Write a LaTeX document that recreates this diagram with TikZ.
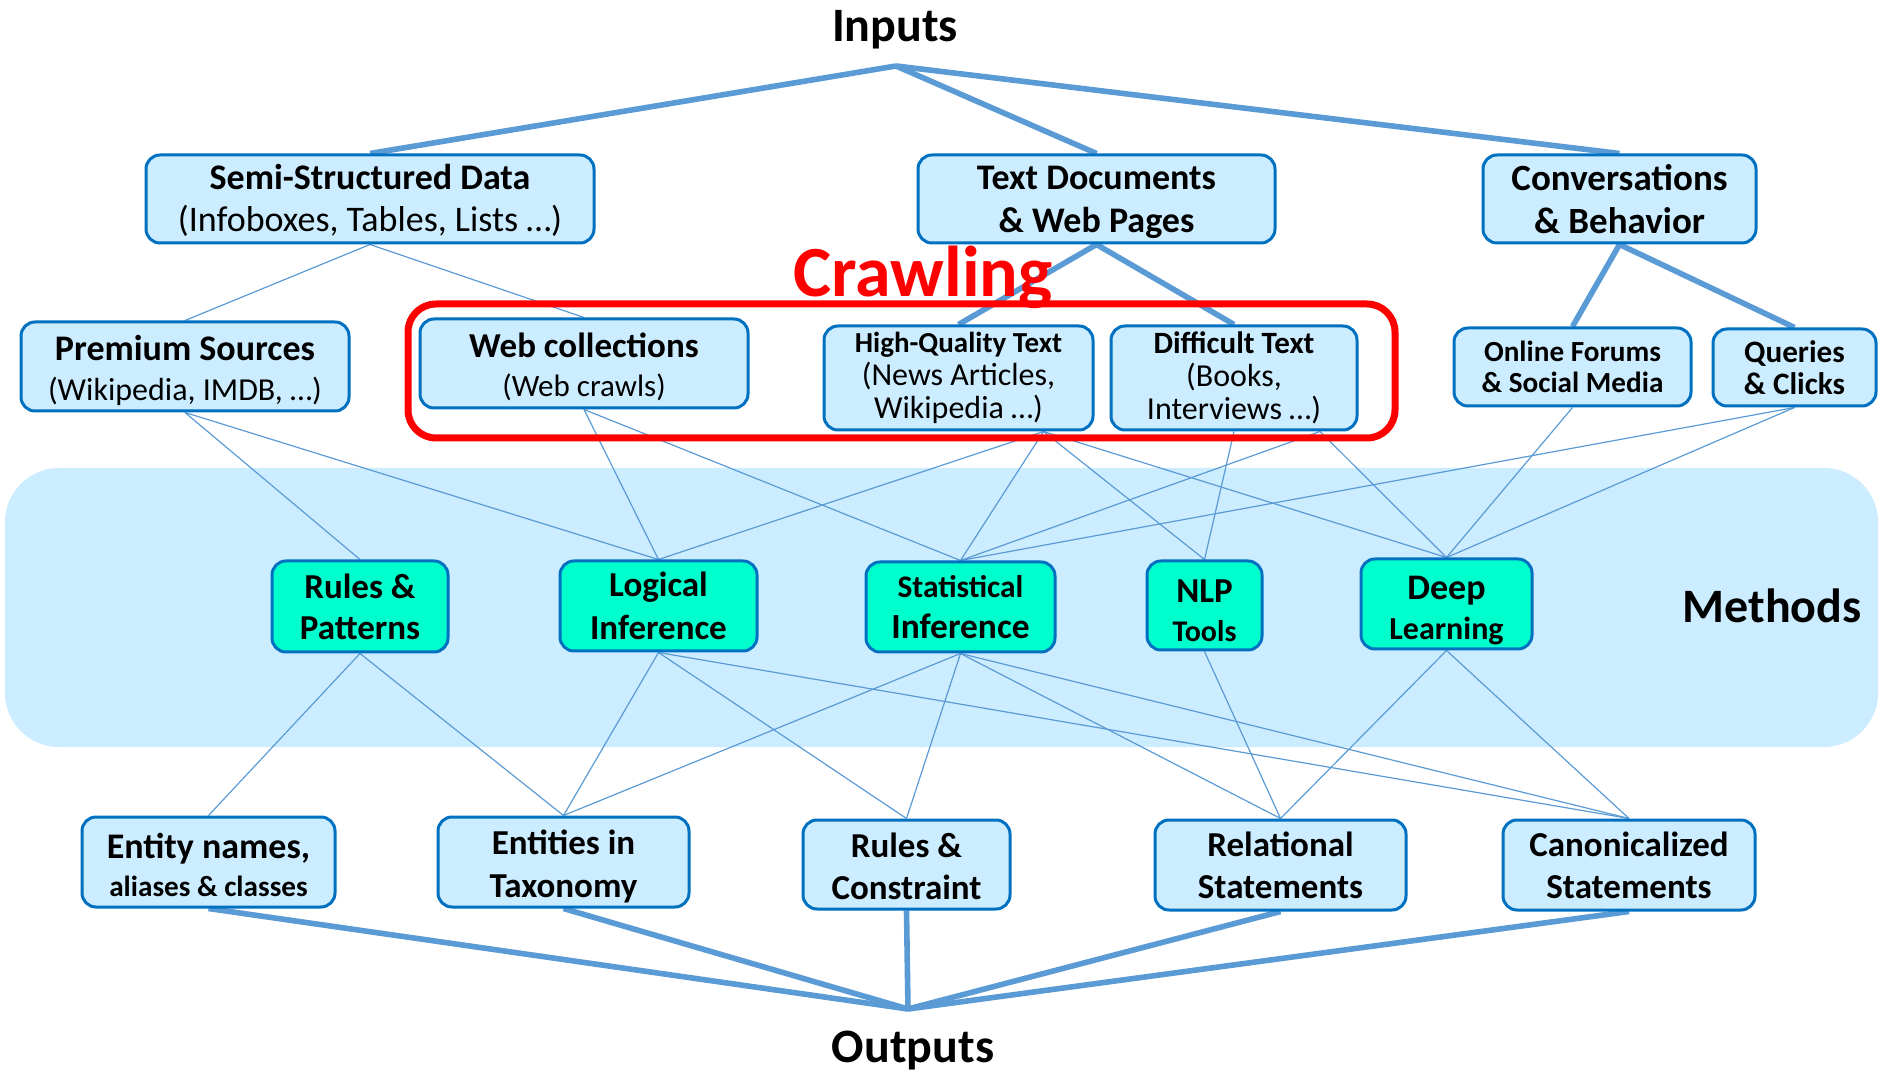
\documentclass[tikz,border=0pt]{standalone}
\usepackage{fontspec}
\setmainfont{Carlito}

\definecolor{boxfill}{HTML}{CCECFF}
\definecolor{boxline}{HTML}{0070C0}
\definecolor{methfill}{HTML}{00FFCC}
\definecolor{linkblue}{HTML}{5B9BD5}
\definecolor{crawlred}{HTML}{FF0000}

\pgfdeclarelayer{bandlayer}
\pgfdeclarelayer{linklayer}
\pgfsetlayers{bandlayer,linklayer,main}

\newcommand\fsz[2]{\fontsize{#1}{#2}\selectfont}
% a taller first line pushes the text block a little lower in its box
\newcommand\topstrut[1]{\rule{0pt}{#1}}

\tikzset{
  wh/.style 2 args={minimum width=#1*0.5pt, minimum height=#2*0.5pt},
  box/.style={draw=boxline, line width=1.5pt, fill=boxfill, rounded corners=7pt,
    inner sep=0pt, align=center, font=\bfseries\fsz{18}{21}},
  mbox/.style={box, fill=methfill},
  thinlink/.style={draw=linkblue, line width=0.6pt},
  thicklink/.style={draw=linkblue, line width=2.8pt},
  lbl/.style={anchor=base, inner sep=0pt, font=\bfseries\fsz{24}{28}},
}

\begin{document}
\begin{tikzpicture}[x=0.5pt,y=-0.5pt]
\useasboundingbox (0,0) rectangle (1880,1074);

% methods band
\begin{pgfonlayer}{bandlayer}
  \fill[boxfill, rounded corners=27pt] (5,468) rectangle (1878,747);
\end{pgfonlayer}

% red frame around the crawled sources
\draw[crawlred, line width=3.5pt, rounded corners=14pt] (408,304) rectangle (1395,438);

% input sources
\node[box, wh={448}{88}] (semi) at (370,199)
  {\topstrut{14.5pt}Semi-Structured Data\\{\mdseries (Infoboxes, Tables, Lists …)}};
\node[box, wh={357}{88}, font=\bfseries\fsz{18}{21.5}] (txt) at (1096.5,199)
  {\topstrut{15.5pt}Text Documents\\\& Web Pages};
\node[box, wh={273}{88}, font=\bfseries\fsz{18.5}{21.5}] (conv) at (1619.5,199)
  {\topstrut{13.5pt}Conversations\\\& Behavior};

\node[box, wh={328}{89}, font=\bfseries\fsz{18}{20}] (prem) at (185,366.5)
  {\topstrut{17pt}Premium Sources\\{\mdseries\fsz{16}{20}(Wikipedia, IMDB, …)}};
\node[box, wh={328}{89}, font=\bfseries\fsz{17.5}{19.5}] (web) at (584,363.5)
  {\topstrut{15.5pt}Web collections\\{\mdseries\fsz{15.5}{19.5}(Web crawls)}};
\node[box, wh={269}{104}, font=\fsz{16}{16.5}] (hq) at (958.5,378)
  {{\bfseries\fsz{14.5}{16.5}High-Quality Text}\\(News Articles,\\Wikipedia …)};
\node[box, wh={246}{104}, font=\fsz{16}{16.5}] (diff) at (1234,378)
  {{\bfseries\fsz{15.5}{16.5}Difficult Text}\\(Books,\\Interviews …)};
\node[box, wh={237}{78}, font=\bfseries\fsz{14.6}{15.5}] (onl) at (1572.5,367)
  {Online Forums\\\& Social Media};
\node[box, wh={163}{77}, font=\bfseries\fsz{15.6}{16}] (qry) at (1794.5,367.5)
  {Queries\\\& Clicks};

% methods
\node[mbox, wh={176}{91}, font=\bfseries\fsz{17.5}{20.5}] (rp) at (360,606.5)
  {Rules \&\\Patterns};
\node[mbox, wh={197}{90}, font=\bfseries\fsz{17.5}{21.5}] (li) at (658.5,606)
  {Logical\\Inference};
\node[mbox, wh={189}{90}, font=\bfseries\fsz{17.7}{20.5}] (si) at (960.5,607)
  {{\fsz{15.7}{20.5}Statistical}\\Inference};
\node[mbox, wh={115}{89}, font=\bfseries\fsz{17.5}{19.5}] (nlp) at (1204.5,605.5)
  {\topstrut{16.5pt}NLP\\{\fsz{15}{19.5}Tools}};
\node[mbox, wh={171}{90}, font=\bfseries\fsz{18}{20}] (dl) at (1446.5,604)
  {\topstrut{18pt}Deep\\{\fsz{16}{20}Learning}};

% outputs
\node[box, wh={253}{90}, font=\bfseries\fsz{18}{19}] (en) at (208.5,862)
  {\topstrut{15.5pt}Entity names,\\{\fsz{14.6}{19}aliases \& classes}};
\node[box, wh={251}{90}, font=\bfseries\fsz{17.5}{21.5}] (et) at (563.5,862)
  {\topstrut{17pt}Entities in\\Taxonomy};
\node[box, wh={207}{89}, font=\bfseries\fsz{17.5}{21}] (rc) at (906.5,864.5)
  {\topstrut{14.5pt}Rules \&\\Constraint};
\node[box, wh={251}{90}, font=\bfseries\fsz{17.5}{21}] (rs) at (1280.5,865)
  {Relational\\Statements};
\node[box, wh={252}{90}, font=\bfseries\fsz{17.5}{21}] (cs) at (1629,865)
  {Canonicalized\\Statements};

% labels
\node[lbl] (inputs) at (895,42) {Inputs};
\node[lbl] (outputs) at (913,1062) {Outputs};
\node[lbl] (methods) at (1772,623) {Methods};
\node[lbl, text=crawlred, font=\bfseries\fsz{36}{40}] (crawl) at (923,297) {Crawling};

% connector end points
\coordinate (inapex) at (896,66);
\coordinate (outapex) at (908,1009);
\path (hq.south) ++(85,0) coordinate (hqb);
\path (diff.south) ++(86,0) coordinate (diffb);

\begin{pgfonlayer}{linklayer}
  % sources to methods
  \draw[thinlink] (semi.south) -- (prem.north);
  \draw[thinlink] (semi.south) -- (web.north);
  \draw[thinlink] (prem.south) -- (rp.north);
  \draw[thinlink] (prem.south) -- (li.north);
  \draw[thinlink] (web.south) -- (li.north);
  \draw[thinlink] (web.south) -- (si.north);
  \draw[thinlink] (hqb) -- (li.north);
  \draw[thinlink] (hqb) -- (si.north);
  \draw[thinlink] (hqb) -- (nlp.north);
  \draw[thinlink] (hqb) -- (dl.north);
  \draw[thinlink] (diff.south) -- (nlp.north);
  \draw[thinlink] (diffb) -- (si.north);
  \draw[thinlink] (diffb) -- (dl.north);
  \draw[thinlink] (onl.south) -- (dl.north);
  \draw[thinlink] (qry.south) -- (dl.north);
  \draw[thinlink] (qry.south) -- (si.north);
  % methods to outputs
  \draw[thinlink] (rp.south) -- (en.north);
  \draw[thinlink] (rp.south) -- (et.north);
  \draw[thinlink] (li.south) -- (et.north);
  \draw[thinlink] (li.south) -- (rc.north);
  \draw[thinlink] (li.south) -- (cs.north);
  \draw[thinlink] (si.south) -- (et.north);
  \draw[thinlink] (si.south) -- (rc.north);
  \draw[thinlink] (si.south) -- (rs.north);
  \draw[thinlink] (si.south) -- (cs.north);
  \draw[thinlink] (nlp.south) -- (rs.north);
  \draw[thinlink] (dl.south) -- (rs.north);
  \draw[thinlink] (dl.south) -- (cs.north);
  % trunk lines
  \draw[thicklink] (inapex) -- (semi.north);
  \draw[thicklink] (inapex) -- (txt.north);
  \draw[thicklink] (inapex) -- (conv.north);
  \draw[thicklink] (txt.south) -- (hq.north);
  \draw[thicklink] (txt.south) -- (diff.north);
  \draw[thicklink] (conv.south) -- (onl.north);
  \draw[thicklink] (conv.south) -- (qry.north);
  \draw[thicklink] (en.south) -- (outapex);
  \draw[thicklink] (et.south) -- (outapex);
  \draw[thicklink] (rc.south) -- (outapex);
  \draw[thicklink] (rs.south) -- (outapex);
  \draw[thicklink] (cs.south) -- (outapex);
\end{pgfonlayer}
\end{tikzpicture}
\end{document}
